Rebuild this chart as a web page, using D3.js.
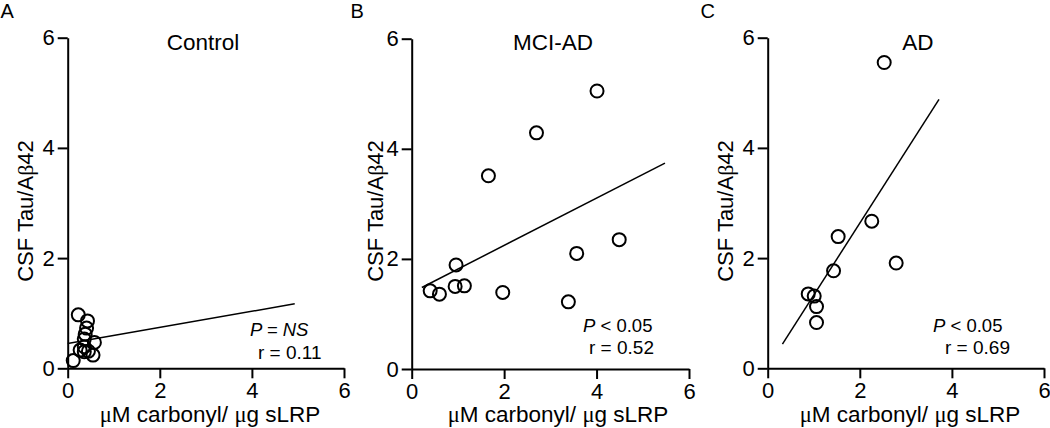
<!DOCTYPE html>
<html><head><meta charset="utf-8">
<script src="https://cdn.jsdelivr.net/npm/d3@7"></script>
<style>
body{margin:0;background:#fff;}
svg{display:block;font-family:Arial,"Liberation Sans",sans-serif;}
</style></head>
<body>
<svg id="chart" width="1050" height="428"></svg>
<script>
// ---- data ----
const panelLetters = ["A", "B", "C"];
const panelTitles = ["Control", "MCI-AD", "AD"];
const xTicks = [0, 2, 4, 6];
const yTicks = [0, 2, 4, 6];

const controlX = [0.12, 0.23, 0.43, 0.41, 0.38, 0.36, 0.58, 0.27, 0.45, 0.36, 0.55, 0.36];
const controlY = [0.14, 0.97, 0.86, 0.73, 0.62, 0.53, 0.47, 0.33, 0.31, 0.39, 0.24, 0.30];
const controlFitX = [0, 4.93];
const controlFitY = [0.45, 1.17];

const mciX = [0.40, 0.60, 0.96, 0.94, 1.14, 1.66, 1.97, 2.70, 3.39, 3.57, 4.01, 4.49];
const mciY = [1.42, 1.36, 1.89, 1.50, 1.51, 3.51, 1.39, 4.29, 1.22, 2.10, 5.05, 2.35];
const mciFitX = [0.22, 5.48];
const mciFitY = [1.48, 3.74];

const adX = [2.53, 2.26, 1.53, 1.43, 2.79, 0.88, 1.01, 1.06, 1.06];
const adY = [5.55, 2.67, 2.39, 1.77, 1.91, 1.35, 1.31, 1.12, 0.83];
const adFitX = [0.32, 3.72];
const adFitY = [0.44, 4.88];

const pLabels = ["NS", "0.05", "0.05"];
const pOperators = ["=", "<", "<"];
const rValues = ["0.11", "0.52", "0.69"];

// ---- layout ----
const svg = d3.select("#chart");
const panels = [
  {x: controlX, y: controlY, fx: controlFitX, fy: controlFitY, left: 67.7, right: 344, top: 37.7, bottom: 368.3, off: 0},
  {x: mciX, y: mciY, fx: mciFitX, fy: mciFitY, left: 411.7, right: 689, top: 38.7, bottom: 369, off: 350},
  {x: adX, y: adY, fx: adFitX, fy: adFitY, left: 767.7, right: 1044, top: 37.7, bottom: 368.3, off: 700}
];
const titleX = [203, 553, 918];
const annX = [250, 583, 933];
const rX = [258, 589, 945];
const annY = [336, 332, 332];
const rY = [359, 354, 354];
const xTitleX = [210, 558, 910];
const serif = "'Liberation Serif', 'Times New Roman', serif";

panels.forEach((p, i) => {
  const xs = d3.scaleLinear().domain([0, 6]).range([p.left, p.right]);
  const ys = d3.scaleLinear().domain([0, 6]).range([p.bottom, p.top]);
  const g = svg.append("g");

  const xa = g.append("g").attr("transform", `translate(0,${p.bottom})`)
    .call(d3.axisBottom(xs).tickValues(xTicks).tickSize(10).tickSizeOuter(0).tickPadding(4).tickFormat(d3.format("d")));
  const ya = g.append("g").attr("transform", `translate(${p.left},0)`)
    .call(d3.axisLeft(ys).tickValues(yTicks).tickSize(10).tickSizeOuter(0).tickPadding(3).tickFormat(d3.format("d")));
  [xa, ya].forEach(a => {
    a.attr("font-size", 22).attr("font-family", "Arial, 'Liberation Sans', sans-serif");
    a.selectAll("path,line").attr("stroke", "#000").attr("stroke-width", 2);
    a.selectAll("text").attr("fill", "#000");
  });

  // regression line
  g.append("line")
    .attr("x1", xs(p.fx[0])).attr("y1", ys(p.fy[0]))
    .attr("x2", xs(p.fx[1])).attr("y2", ys(p.fy[1]))
    .attr("stroke", "#000").attr("stroke-width", 1.5);

  // points
  g.selectAll("circle.pt").data(p.x.map((v, k) => [v, p.y[k]])).enter()
    .append("circle").attr("class", "pt")
    .attr("cx", d => xs(d[0])).attr("cy", d => ys(d[1])).attr("r", 6.5)
    .attr("fill", "none").attr("stroke", "#000").attr("stroke-width", 2);

  // panel letter
  g.append("text").attr("x", p.off + 0.5).attr("y", 18).attr("font-size", 20).text(panelLetters[i]);
  // title
  g.append("text").attr("x", titleX[i]).attr("y", 50).attr("text-anchor", "middle").attr("font-size", 22.5).text(panelTitles[i]);

  // y title
  const yt = g.append("text").attr("transform", `translate(${p.off + 33},211) rotate(-90)`)
    .attr("text-anchor", "middle").attr("font-size", 22);
  yt.append("tspan").text("CSF Tau/A");
  yt.append("tspan").attr("font-family", serif).text("β");
  yt.append("tspan").text("42");

  // x title
  const xt = g.append("text").attr("x", xTitleX[i]).attr("y", 422).attr("text-anchor", "middle").attr("font-size", 22.5);
  xt.append("tspan").attr("font-family", serif).text("μ");
  xt.append("tspan").text("M carbonyl/ ");
  xt.append("tspan").attr("font-family", serif).text("μ");
  xt.append("tspan").text("g sLRP");

  // annotation
  const at = g.append("text").attr("x", annX[i]).attr("y", annY[i]).attr("font-size", 18.5).attr("xml:space", "preserve");
  at.append("tspan").attr("font-style", "italic").text("P");
  at.append("tspan").attr("font-style", i === 0 ? "italic" : "normal").text(" " + pOperators[i] + " ");
  at.append("tspan").attr("font-style", i === 0 ? "italic" : "normal").text(pLabels[i]);
  g.append("text").attr("x", rX[i]).attr("y", rY[i]).attr("font-size", 19).text("r = " + rValues[i]);
});
</script>
</body></html>
